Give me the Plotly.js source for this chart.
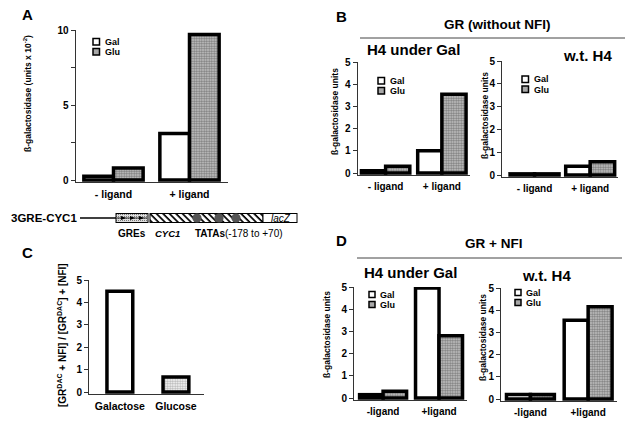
<!DOCTYPE html>
<html>
<head>
<meta charset="utf-8">
<script src="https://cdn.plot.ly/plotly-3.0.1.min.js"></script>
<style>html,body{margin:0;padding:0;background:#fff;}#chart{width:632px;height:430px;}</style>
</head>
<body>
<div id="chart"></div>
<script>
// ---------- data ----------
const ligandCatsB = ['- ligand', '+ ligand'];
const ligandCatsD = ['-ligand', '+ligand'];
const seriesNames = ['Gal', 'Glu'];

const A_gal = [0.25, 3.1];
const A_glu = [0.8, 9.7];

const B_h4_gal = [0.1, 1.0];
const B_h4_glu = [0.3, 3.55];
const B_wt_gal = [0.05, 0.38];
const B_wt_glu = [0.05, 0.58];

const D_h4_gal = [0.15, 4.95];
const D_h4_glu = [0.3, 2.8];
const D_wt_gal = [0.2, 3.55];
const D_wt_glu = [0.2, 4.15];

const C_cats = ['Galactose', 'Glucose'];
const C_vals = [4.5, 0.67];

// ---------- styles ----------
const W = 632, H = 430;
const FONT = 'Arial, Liberation Sans, sans-serif';
const LW = 3.5;
const gluPattern = {shape: '.', size: 2.5, solidity: 0.55, fgcolor: '#7a7a7a', bgcolor: '#cdcdcd', fillmode: 'replace'};
const galMarker = {color: '#ffffff', line: {color: '#000', width: LW}};
const gluMarker = {color: '#b4b4b4', line: {color: '#000', width: LW}, pattern: gluPattern};

const px = v => v / W;
const py = v => 1 - v / H;

// subplot geometry (pixels)
const geo = {
  A:  {xl: 75.5, xr: 227.5, xr0: -0.5,  y0: 180, yt: 30,  top: 10, dt: 5, minor: 2.5, half: 0.39},
  C:  {xl: 89,   xr: 204,   xr0: -0.55, y0: 392, yt: 280, top: 5,  dt: 1},
  BL: {xl: 357.5, xr: 470,  xr0: -0.5,  y0: 173, yt: 62,  top: 5,  dt: 1, half: 0.43},
  BR: {xl: 502,  xr: 618,   xr0: -0.585, y0: 175, yt: 61,  top: 5,  dt: 1, half: 0.44},
  DL: {xl: 354,  xr: 467,   xr0: -0.52, y0: 398, yt: 287, top: 5,  dt: 1, half: 0.42},
  DR: {xl: 501,  xr: 617,   xr0: -0.51, y0: 399, yt: 288, top: 5,  dt: 1, half: 0.415}
};
const order = ['A', 'C', 'BL', 'BR', 'DL', 'DR'];

const layout = {
  width: W, height: H,
  margin: {l: 0, r: 0, t: 0, b: 0},
  paper_bgcolor: '#fff', plot_bgcolor: 'rgba(0,0,0,0)',
  showlegend: false,
  barmode: 'overlay',
  font: {family: FONT, color: '#000', size: 10},
  annotations: [], shapes: [], images: []
};

order.forEach((k, i) => {
  const g = geo[k];
  const n = i === 0 ? '' : String(i + 1);
  const upp = g.top / (g.y0 - g.yt);
  const pad = 2;
  layout['xaxis' + n] = {
    domain: [px(g.xl), px(g.xr)], anchor: 'y' + n, type: 'category',
    range: [g.xr0, 1.5], showline: true, linecolor: '#333', linewidth: 1,
    ticks: '', showgrid: false, zeroline: false, fixedrange: true,
    tickfont: {family: FONT, size: k === 'A' || k === 'C' ? 10.5 : 10, weight: 'bold'},
    ticklabelstandoff: 2
  };
  const ya = {
    domain: [py(g.y0 + pad), py(g.yt)], anchor: 'x' + n,
    range: [-pad * upp, g.top], showline: true, linecolor: '#333', linewidth: 1,
    ticks: 'outside', ticklen: 4, tickcolor: '#333', tickwidth: 1,
    tick0: 0, dtick: g.dt, showgrid: false, zeroline: false, fixedrange: true,
    tickfont: {family: FONT, size: 10, weight: 'bold'}
  };
  if (g.minor) ya.minor = {dtick: g.minor, ticks: 'outside', ticklen: 4, tickcolor: '#333', showgrid: false};
  layout['yaxis' + n] = ya;
});

const traces = [];
function pair(k, cats, gal, glu) {
  const i = order.indexOf(k);
  const n = i === 0 ? '' : String(i + 1);
  const h = geo[k].half;
  traces.push({type: 'bar', x: cats, y: gal, name: seriesNames[0], xaxis: 'x' + n, yaxis: 'y' + n,
    width: h, offset: -h, marker: galMarker, hoverinfo: 'skip'});
  traces.push({type: 'bar', x: cats, y: glu, name: seriesNames[1], xaxis: 'x' + n, yaxis: 'y' + n,
    width: h, offset: 0, marker: gluMarker, hoverinfo: 'skip'});
}
pair('A', ligandCatsB, A_gal, A_glu);
pair('BL', ligandCatsB, B_h4_gal, B_h4_glu);
pair('BR', ligandCatsB, B_wt_gal, B_wt_glu);
pair('DL', ligandCatsD, D_h4_gal, D_h4_glu);
pair('DR', ligandCatsD, D_wt_gal, D_wt_glu);
traces.push({type: 'bar', x: C_cats, y: C_vals, xaxis: 'x2', yaxis: 'y2', width: 0.46,
  hoverinfo: 'skip',
  marker: {color: ['#ffffff', '#b4b4b4'], line: {color: '#000', width: LW},
    pattern: Object.assign({}, gluPattern, {shape: ['', '.']})}});

// ---------- annotations ----------
function ann(text, x, y, size, opts) {
  layout.annotations.push(Object.assign({
    text: text, x: px(x), y: py(y), xref: 'paper', yref: 'paper', showarrow: false,
    xanchor: 'center', yanchor: 'middle',
    font: {family: FONT, size: size, color: '#000', weight: 'bold'}
  }, opts || {}));
}
// panel letters
ann('A', 20, 15, 15, {xanchor: 'left'});
ann('B', 334, 16, 15, {xanchor: 'left'});
ann('C', 20, 253, 15, {xanchor: 'left'});
ann('D', 334, 240, 15, {xanchor: 'left'});
// titles
ann('GR (without NFI)', 497, 25, 13.5);
ann('H4 under Gal', 413, 50, 15);
ann('w.t. H4', 587, 55, 15);
ann('GR + NFI', 493, 243, 13.5);
ann('H4 under Gal', 410, 272, 15);
ann('w.t. H4', 546, 275, 15);
// header rules
layout.shapes.push({type: 'line', xref: 'paper', yref: 'paper', x0: px(360), x1: px(625), y0: py(38), y1: py(38), line: {color: '#444', width: 1}});
layout.shapes.push({type: 'line', xref: 'paper', yref: 'paper', x0: px(357), x1: px(622), y0: py(258), y1: py(258), line: {color: '#444', width: 1}});
// y titles
const vopt = {textangle: -90};
ann('ß-galactosidase (units x 10<sup>-2</sup>)', 27, 94, 8.5, vopt);
ann('ß-galactosidase units', 335, 112, 8.5, vopt);
ann('ß-galactosidase units', 485, 116, 8.5, vopt);
ann('ß-galactosidase units', 327, 335, 8.5, vopt);
ann('ß-galactosidase units', 483, 338, 8.5, vopt);
ann('[GR<sup>DAC</sup> + NFI] / [GR<sup>DAC</sup>] + [NFI]', 62, 335, 10, vopt);

// legends (manual)
function legend(x, yGal, yGlu, s) {
  layout.shapes.push({type: 'rect', xref: 'paper', yref: 'paper', x0: px(x), x1: px(x + s), y0: py(yGal), y1: py(yGal + s),
    fillcolor: '#fff', line: {color: '#000', width: 1.5}});
  layout.shapes.push({type: 'rect', xref: 'paper', yref: 'paper', x0: px(x), x1: px(x + s), y0: py(yGlu), y1: py(yGlu + s),
    fillcolor: '#a8a8a8', line: {color: '#000', width: 1.5}});
  ann(seriesNames[0], x + s + 3, yGal + s / 2, 9, {xanchor: 'left', yanchor: 'middle'});
  ann(seriesNames[1], x + s + 3, yGlu + s / 2 + 0.5, 9, {xanchor: 'left', yanchor: 'middle'});
}
legend(93, 38.5, 48.5, 6.5);
legend(378, 77.5, 87.5, 6.5);
legend(522, 76, 86, 6.5);
legend(369, 291.5, 301.5, 6);
legend(515, 289.5, 299.5, 6);

// construct schematic (decoration)
const svg = '<svg xmlns="http://www.w3.org/2000/svg" width="632" height="430" viewBox="0 0 632 430">' +
  '<defs>' +
  '<pattern id="h" width="4.6" height="4.6" patternUnits="userSpaceOnUse" patternTransform="rotate(-45)">' +
  '<rect width="4.6" height="4.6" fill="#fff"/><line x1="1" y1="0" x2="1" y2="4.6" stroke="#000" stroke-width="1.7"/></pattern>' +
  '<pattern id="d" width="2" height="2" patternUnits="userSpaceOnUse"><rect width="2" height="2" fill="#dcdcdc"/><rect width="1" height="1" fill="#7a7a7a"/></pattern>' +
  '</defs>' +
  '<line x1="80" y1="218" x2="116" y2="218" stroke="#000" stroke-width="1.3"/>' +
  '<rect x="116" y="213.5" width="32" height="9" fill="url(#d)" stroke="#000" stroke-width="1"/>' +
  '<line x1="117" y1="218" x2="147" y2="218" stroke="#000" stroke-width="0.8"/>' +
  '<path d="M121,216 L126,218 L121,220Z M130,216 L135,218 L130,220Z M139,216 L144,218 L139,220Z" fill="#000"/>' +
  '<rect x="150" y="213.5" width="113" height="9" fill="url(#h)" stroke="#000" stroke-width="1"/>' +
  '<rect x="263" y="213.5" width="34" height="9" fill="#fff" stroke="#000" stroke-width="1"/>' +
  '<circle cx="197" cy="218" r="4.6" fill="#555"/>' +
  '<circle cx="219" cy="218" r="4.6" fill="#555"/>' +
  '<circle cx="236" cy="218" r="4.6" fill="#555"/>' +
  '</svg>';
layout.images.push({source: 'data:image/svg+xml;charset=utf-8,' + encodeURIComponent(svg),
  xref: 'paper', yref: 'paper', x: 0, y: 1, sizex: 1, sizey: 1, xanchor: 'left', yanchor: 'top',
  sizing: 'stretch', layer: 'below'});
ann('3GRE-CYC1', 9, 218, 11.5, {xanchor: 'left'});
ann('<i>lacZ</i>', 281, 218, 10, {font: {family: FONT, size: 10, color: '#000', weight: 'normal'}});
ann('GREs', 132, 233, 10);
ann('<i>CYC1</i>', 168, 233, 9.5);
ann('TATAs<span style="font-weight:normal">(-178 to +70)</span>', 239, 233, 10);

Plotly.newPlot('chart', traces, layout, {displayModeBar: false, staticPlot: true});
</script>
</body>
</html>
